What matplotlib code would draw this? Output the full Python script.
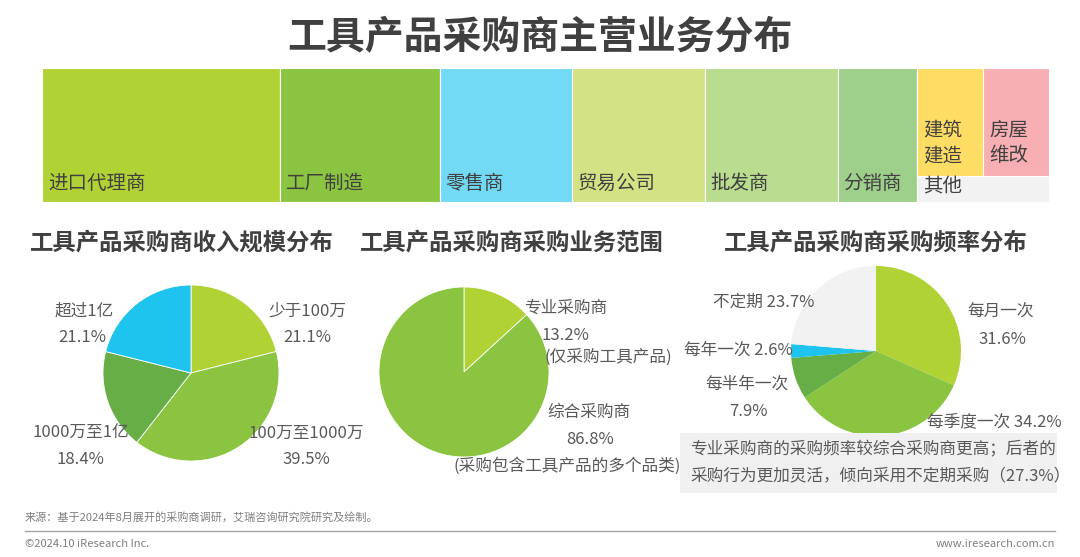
import matplotlib
matplotlib.use('Agg')
import matplotlib.pyplot as plt
import numpy as np

plt.rcParams['font.family'] = ['Noto Sans CJK SC', 'DejaVu Sans']

# 主营业务分布 (矩形树图)
biz_names = ['进口代理商', '工厂制造', '零售商', '贸易公司', '批发商', '分销商', '其他']
biz_values = [23.6, 15.9, 13.1, 13.2, 13.2, 7.9, 13.1]
biz_colors = ['#B1D234', '#8BC441', '#73DAF5', '#D2E284', '#B9DC8F', '#9ED08B', '#F2F2F2']
other_names = ['建筑\n建造', '房屋\n维改']
other_values = [5.3, 5.3]
other_colors = ['#FFDC63', '#F7AFB3']

# 收入规模分布
income_labels = ['少于100万', '100万至1000万', '1000万至1亿', '超过1亿']
income_values = [21.1, 39.5, 18.4, 21.1]
income_colors = ['#B1D234', '#8BC441', '#66AE45', '#1EC3EE']

# 采购业务范围
scope_labels = ['专业采购商', '综合采购商']
scope_values = [13.2, 86.8]
scope_colors = ['#B1D234', '#8BC441']

# 采购频率分布
freq_labels = ['每月一次', '每季度一次', '每半年一次', '每年一次', '不定期']
freq_values = [31.6, 34.2, 7.9, 2.6, 23.7]
freq_colors = ['#B1D234', '#8BC441', '#66AE45', '#1EC3EE', '#F2F2F2']

W, H = 1080, 557
TXT = '#404040'
LBL = '#595959'

fig = plt.figure(figsize=(W / 100, H / 100), dpi=100)
ax = fig.add_axes([0, 0, 1, 1])
ax.set_xlim(0, W)
ax.set_ylim(0, H)
ax.axis('off')


def Y(y):
    return H - y


# 标题
ax.text(540, Y(38), '工具产品采购商主营业务分布', ha='center', va='center',
        fontsize=28, fontweight='bold', color=TXT)

# ---- 矩形树图 ----
x0, x1, y0, y1 = 42, 1049, 68, 202
tm = fig.add_axes([x0 / W, (H - y1) / H, (x1 - x0) / W, (y1 - y0) / H])
total = sum(biz_values)
tm.set_xlim(0, total)
tm.set_ylim(0, 1)
tm.axis('off')
lefts = np.concatenate([[0], np.cumsum(biz_values)[:-1]])
tm.barh(0.5, biz_values, left=lefts, height=1, color=biz_colors,
        edgecolor='white', linewidth=0.8, align='center')
px = total / (x1 - x0)
for name, l in zip(biz_names, lefts):
    yy = 0.115 if name == '其他' else 0.135
    tm.text(l + 6 * px, yy, name, ha='left', va='center', fontsize=14, color=TXT)

# 其他 细分：上方两块按面积分配高度，宽度平分
o_left, o_w = lefts[-1], biz_values[-1]
top_frac = sum(other_values) / o_w
sub_w = [o_w * v / sum(other_values) for v in other_values]
sub_lefts = o_left + np.concatenate([[0], np.cumsum(sub_w)[:-1]])
tm.bar(sub_lefts, [top_frac] * len(sub_w), width=sub_w, bottom=1 - top_frac,
       color=other_colors, align='edge', edgecolor='white', linewidth=0.8)
for name, l in zip(other_names, sub_lefts):
    tm.text(l + 6 * px, 0.44, name, ha='left', va='center', fontsize=14,
            color=TXT, linespacing=1.3)

# ---- 副标题 ----
for xc, t in [(182, '工具产品采购商收入规模分布'), (512, '工具产品采购商采购业务范围'),
              (876, '工具产品采购商采购频率分布')]:
    ax.text(xc, Y(242), t, ha='center', va='center', fontsize=16.8,
            fontweight='bold', color=TXT)

wp = dict(edgecolor='white', linewidth=0.6)

# ---- 饼图1 ----
ax.pie(income_values, colors=income_colors, startangle=90, counterclock=False,
       center=(191, Y(373)), radius=88, frame=True, wedgeprops=wp)
lab = dict(ha='center', va='center', fontsize=12, color=LBL)
ax.text(307, Y(311), income_labels[0], **lab)
ax.text(307, Y(338), f'{income_values[0]}%', **lab)
ax.text(306, Y(433), income_labels[1], **lab)
ax.text(306, Y(460), f'{income_values[1]}%', **lab)
ax.text(81, Y(433), income_labels[2], **lab)
ax.text(80, Y(460), f'{income_values[2]}%', **lab)
ax.text(84, Y(311), income_labels[3], **lab)
ax.text(82, Y(338), f'{income_values[3]}%', **lab)

# ---- 饼图2 ----
ax.pie(scope_values, colors=scope_colors, startangle=90, counterclock=False,
       center=(464, Y(372)), radius=85, frame=True, wedgeprops=wp)
ax.text(566, Y(308), scope_labels[0], **lab)
ax.text(565, Y(335), f'{scope_values[0]}%', **lab)
ax.text(608, Y(357), '(仅采购工具产品)', **lab)
ax.text(589, Y(412), scope_labels[1], **lab)
ax.text(590, Y(439), f'{scope_values[1]}%', **lab)
ax.text(567, Y(466), '(采购包含工具产品的多个品类)', **lab)

# ---- 饼图3 ----
ax.pie(freq_values, colors=freq_colors, startangle=90, counterclock=False,
       center=(876, Y(351)), radius=85, frame=True, wedgeprops=dict(linewidth=0))
ax.text(1001, Y(312), freq_labels[0], **lab)
ax.text(1002, Y(339), f'{freq_values[0]}%', **lab)
ax.text(994, Y(422), f'{freq_labels[1]} {freq_values[1]}%', **lab)
ax.text(747, Y(384), freq_labels[2], **lab)
ax.text(748, Y(411), f'{freq_values[2]}%', **lab)
ax.text(793, Y(350), f'{freq_labels[3]} {freq_values[3]}%', ha='right', va='center',
        fontsize=12, color=LBL)
ax.text(764, Y(302), f'{freq_labels[4]} {freq_values[4]}%', **lab)

# 注释框
ax.add_patch(plt.Rectangle((680, Y(493)), 377, 60, color='#F0F0F0', lw=0))
ax.text(690, Y(450), '专业采购商的采购频率较综合采购商更高；后者的', ha='left',
        va='center', fontsize=12, color=LBL)
ax.text(690, Y(476), '采购行为更加灵活，倾向采用不定期采购（27.3%）', ha='left',
        va='center', fontsize=12, color=LBL)

# ---- 页脚 ----
ax.text(25, Y(517), '来源：基于2024年8月展开的采购商调研，艾瑞咨询研究院研究及绘制。',
        ha='left', va='center', fontsize=8, color='#7F7F7F')
ax.plot([25, 1055], [Y(531), Y(531)], color='#A6A6A6', lw=1)
ax.text(25, Y(544), '©2024.10 iResearch Inc.', ha='left', va='center',
        fontsize=8, color='#7F7F7F')
ax.text(1055, Y(544), 'www.iresearch.com.cn', ha='right', va='center',
        fontsize=8, color='#7F7F7F')

ax.set_xlim(0, W)
ax.set_ylim(0, H)
fig.savefig('out.png', dpi=100, facecolor='white')
